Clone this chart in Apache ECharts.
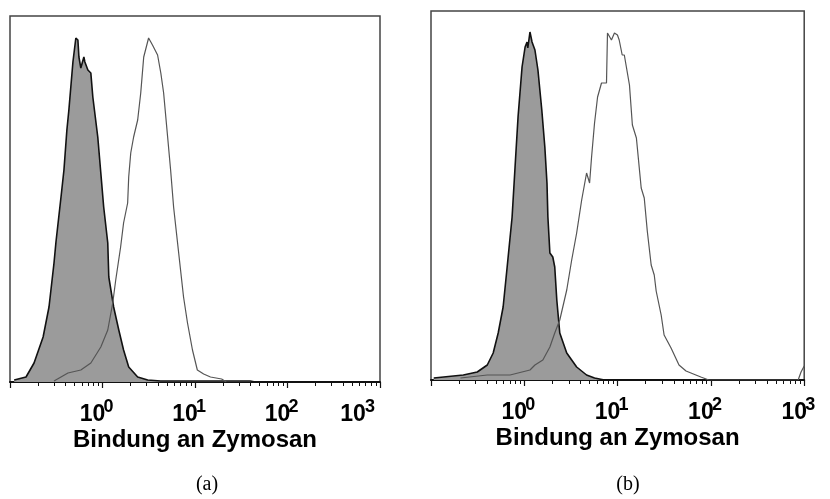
<!DOCTYPE html>
<html>
<head>
<meta charset="utf-8">
<script src="https://cdn.jsdelivr.net/npm/echarts@6/dist/echarts.min.js"></script>
<style>
html, body { margin: 0; padding: 0; background: #fff; }
#chart { width: 830px; height: 499px; }
</style>
</head>
<body>
<div id="chart"></div>
<script>
// fluorescence intensity (linear units) and counts
var grayAX = [0.111, 0.149, 0.182, 0.228, 0.264, 0.299, 0.314, 0.356, 0.383, 0.412, 0.433, 0.479, 0.515, 0.542, 0.556, 0.583, 0.629, 0.645, 0.695, 0.748, 0.786, 0.889, 0.959, 1.03, 1.14, 1.17, 1.32, 1.50, 1.69, 1.92, 2.40, 3.08, 4.25, 39.6, 44.7];
var grayAY = [2, 5, 19, 45, 75, 119, 140, 185, 212, 252, 272, 320, 344, 342, 325, 314, 325, 320, 312, 309, 285, 245, 209, 175, 139, 105, 75, 52, 32, 15, 5, 2, 1, 1, 0];
var whiteAX = [0.299, 0.423, 0.583, 0.748, 0.959, 1.14, 1.29, 1.39, 1.57, 1.69, 1.87, 1.92, 2.02, 2.17, 2.40, 2.59, 2.79, 3.15, 3.47, 3.94, 4.27, 4.58, 5.06, 5.45, 5.87, 6.48, 6.98, 7.52, 8.30, 9.39, 10.6, 12.4, 14.7, 19.4, 21.8];
var whiteAY = [1, 9, 12, 19, 35, 52, 79, 102, 135, 159, 179, 205, 229, 245, 262, 289, 325, 344, 337, 327, 309, 289, 245, 212, 175, 139, 112, 85, 59, 32, 12, 8, 5, 3, 0];

var grayBX = [0.107, 0.222, 0.313, 0.401, 0.464, 0.525, 0.593, 0.655, 0.740, 0.796, 0.857, 0.946, 1.02, 1.07, 1.09, 1.15, 1.21, 1.30, 1.40, 1.54, 1.66, 1.75, 1.79, 1.88, 2.02, 2.12, 2.23, 2.40, 2.85, 3.64, 4.65, 5.66, 7.2];
var grayBY = [2, 5, 8, 15, 27, 47, 73, 113, 163, 213, 263, 313, 333, 338, 332, 348, 338, 330, 310, 270, 233, 197, 163, 127, 123, 113, 80, 47, 27, 13, 5, 2, 0];
var whiteBX = [0.207, 0.401, 0.704, 1.15, 1.30, 1.58, 1.88, 2.12, 2.40, 2.85, 3.22, 3.64, 4.12, 4.65, 5.01, 5.26, 5.66, 6.10, 6.72, 7.60, 7.79, 8.59, 9.25, 9.96, 10.4, 11.2, 11.8, 13.4, 14.4, 15.9, 17.9, 19.3, 20.8, 22.9, 24.7, 25.9, 29.3, 31.5, 37.4, 45.5, 54.1, 69.0, 78.0, 94.9, 861, 925, 1000];
var whiteBY = [2, 5, 5, 10, 15, 20, 33, 47, 60, 90, 120, 147, 180, 207, 197, 223, 257, 283, 297, 297, 347, 340, 347, 345, 340, 325, 325, 295, 255, 242, 192, 182, 149, 115, 105, 89, 65, 45, 32, 15, 9, 5, 3, 0, 0, 8, 14];

// decades shown on the x axis, and the minor factors in each decade
var decades = [-1, 0, 1, 2];
var minorFactors = [2, 3, 4, 5, 6, 7, 8, 9];
var axisName = 'Bindung an Zymosan';

function toPairs(xs, ys) {
    var out = [];
    for (var i = 0; i < xs.length; i++) {
        out.push([Math.log10(xs[i]), ys[i]]);
    }
    return out;
}

var minorTicks = [];
for (var d = 0; d < decades.length; d++) {
    for (var k = 0; k < minorFactors.length; k++) {
        minorTicks.push(decades[d] + Math.log10(minorFactors[k]));
    }
}

var sans = '"Liberation Sans", Arial, sans-serif';

// "10" part of the tick label; the last one in panel (a) is pulled left
function baseXAxis(gi, pullLast) {
    return {
        type: 'value', gridIndex: gi, min: -1, max: 3, interval: 1,
        name: axisName, nameLocation: 'middle', nameGap: 46, nameMoveOverlap: false,
        nameTextStyle: {fontFamily: sans, fontWeight: 'bold', fontSize: 24, color: '#000'},
        axisLine: {lineStyle: {color: '#111', width: 2}},
        axisTick: {show: true, length: 6, lineStyle: {color: '#111', width: 1.2}},
        axisLabel: {
            margin: 22,
            formatter: function(v) {
                var e = Math.round(v);
                if (e < 0) return '';
                return (pullLast && e === 3) ? '{bl|10}' : '{b|10}';
            },
            rich: {
                b: {fontFamily: sans, fontWeight: 'bold', fontSize: 23, lineHeight: 22, color: '#000', padding: [0, 20, 0, 0]},
                bl: {fontFamily: sans, fontWeight: 'bold', fontSize: 23, lineHeight: 22, color: '#000', padding: [0, 54, 0, 0]}
            }
        },
        splitLine: {show: false}
    };
}

// exponent part of the tick label, set higher as a superscript
function expXAxis(gi, pullLast) {
    return {
        type: 'value', gridIndex: gi, min: -1, max: 3, interval: 1, position: 'bottom',
        axisLine: {show: false},
        axisTick: {show: false},
        axisLabel: {
            margin: 16,
            formatter: function(v) {
                var e = Math.round(v);
                if (e < 0) return '';
                return (pullLast && e === 3) ? '{sl|' + e + '}' : '{s|' + e + '}';
            },
            rich: {
                s: {fontFamily: sans, fontWeight: 'bold', fontSize: 18, lineHeight: 18, color: '#000', padding: [0, 0, 0, 12]},
                sl: {fontFamily: sans, fontWeight: 'bold', fontSize: 18, lineHeight: 18, color: '#000', padding: [0, 20, 0, 0]}
            }
        },
        splitLine: {show: false}
    };
}

function minorXAxis(gi) {
    return {
        type: 'value', gridIndex: gi, min: -1, max: 3, position: 'bottom',
        axisLine: {show: false},
        axisTick: {show: true, length: 4, customValues: minorTicks, lineStyle: {color: '#111', width: 1}},
        axisLabel: {show: false},
        splitLine: {show: false}
    };
}

function yAxis(gi, max) {
    return {type: 'value', gridIndex: gi, min: 0, max: max, show: false};
}

function graySeries(xi, yi, data) {
    return {
        type: 'line', xAxisIndex: xi, yAxisIndex: yi, data: data,
        showSymbol: false, silent: true, z: 2,
        lineStyle: {color: '#111', width: 1.6},
        areaStyle: {color: '#9b9b9b', opacity: 1}
    };
}

function whiteSeries(xi, yi, data) {
    return {
        type: 'line', xAxisIndex: xi, yAxisIndex: yi, data: data,
        showSymbol: false, silent: true, z: 3,
        lineStyle: {color: '#555', width: 1.2}
    };
}

var captionFont = '20px "Liberation Serif", serif';

var chart = echarts.init(document.getElementById('chart'));
chart.setOption({
    backgroundColor: '#fff',
    animation: false,
    grid: [
        {left: 10, top: 16, width: 370, height: 366, show: true, borderColor: '#444', borderWidth: 1.5},
        {left: 431, top: 11, width: 375, height: 369, show: true, borderColor: '#444', borderWidth: 1.5}
    ],
    xAxis: [
        baseXAxis(0, true), baseXAxis(1, false),
        expXAxis(0, true), expXAxis(1, false),
        minorXAxis(0), minorXAxis(1)
    ],
    yAxis: [yAxis(0, 366), yAxis(1, 369)],
    series: [
        graySeries(0, 0, toPairs(grayAX, grayAY)),
        whiteSeries(0, 0, toPairs(whiteAX, whiteAY)),
        graySeries(1, 1, toPairs(grayBX, grayBY)),
        whiteSeries(1, 1, toPairs(whiteBX, whiteBY))
    ],
    graphic: [
        {type: 'text', x: 207, y: 485, style: {text: '(a)', font: captionFont, fill: '#000', align: 'center', verticalAlign: 'middle'}},
        {type: 'text', x: 628, y: 485, style: {text: '(b)', font: captionFont, fill: '#000', align: 'center', verticalAlign: 'middle'}}
    ]
});
</script>
</body>
</html>
